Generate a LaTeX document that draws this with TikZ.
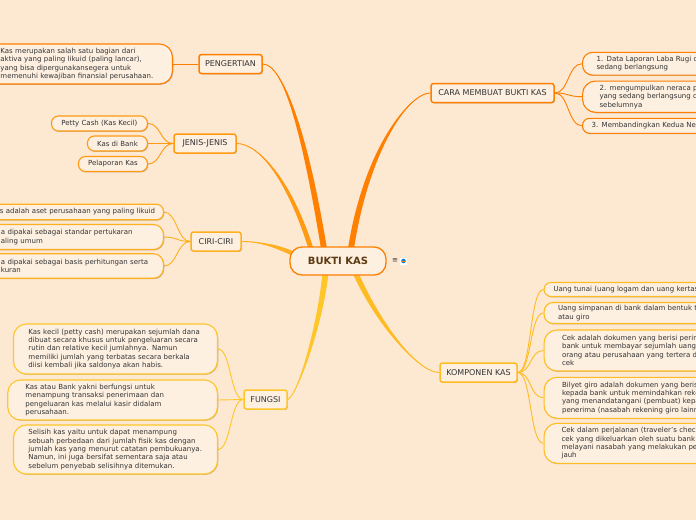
\documentclass[tikz,border=0pt]{standalone}
\usepackage{fontspec}
\setmainfont{DejaVu Sans}
\usetikzlibrary{calc,shadows}
\definecolor{bgc}{HTML}{FDE8D1}
\definecolor{cA}{HTML}{FF7F00}
\definecolor{cB}{HTML}{FF9A12}
\definecolor{cC}{HTML}{FFB020}
\definecolor{cD}{HTML}{FFBC22}
\definecolor{cE}{HTML}{FFC62A}
\definecolor{boxfill}{HTML}{FEF0E1}
\definecolor{txt}{HTML}{333333}
\definecolor{ctr}{HTML}{5C3A12}
\pgfdeclarelayer{bglayer}
\pgfdeclarelayer{connlayer}
\pgfsetlayers{bglayer,connlayer,main}
\newcommand\mmbranch[6]{%
  \fill[#1] (#2) .. controls ($(#2)+(#3)$) and ($(#5)+(#4)-(#6)$) .. ($(#5)-(#6)$)
     -- ($(#5)+(#6)$) .. controls ($(#5)+(#4)+(#6)$) and ($(#2)+(#3)$) .. (#2) -- cycle;
  \draw[#1, line width=0.9pt] (#2) .. controls ($(#2)+(#3)$) and ($(#5)+(#4)$) .. (#5);}
\tikzset{
  shad/.style={drop shadow={shadow xshift=0.8pt, shadow yshift=-0.9pt, opacity=0.22, fill=black}},
  head/.style={draw, fill=boxfill, rounded corners=2.5pt, line width=1.5pt, inner sep=0pt,
    minimum height=19pt, font=\fontsize{8}{9.5}\selectfont, text=txt, shad},
  leaf/.style={draw, fill=boxfill, line width=1.1pt, inner xsep=6pt, inner ysep=1pt,
    font=\fontsize{7}{8.4}\selectfont, text=txt, align=left, shad},
  sleaf/.style={leaf, rounded corners=7pt, align=center, inner sep=0pt, minimum height=15pt},
  mleaf/.style={leaf, rounded corners=13pt},
  fan/.style={line width=0.9pt},
}
\begin{document}
\begin{tikzpicture}[x=1pt,y=-1pt]
\begin{pgfonlayer}{bglayer}
\fill[bgc] (0,0) rectangle (696,520);
\end{pgfonlayer}
\useasboundingbox (0,0) rectangle (696,520);
\clip (0,0) rectangle (696,520);

% centre
\node[draw=cA, fill=boxfill, line width=1.3pt, rounded corners=12pt, minimum width=96pt,
  minimum height=28pt, font=\bfseries\fontsize{10}{12}\selectfont, text=ctr] (bk) at (338,261) {BUKTI KAS};
\node[font=\fontsize{7}{8}\selectfont, text=txt, inner sep=0pt] (ico1) at (395,261) {≡};
\node[fill=white, minimum size=7pt, inner sep=0pt] (ico2) at (403.5,261) {};
\fill[cyan!60!blue] (ico2.center) circle (2.3);
\fill[orange] ($(ico2.center)+(-2,0)$) rectangle ($(ico2.center)+(1,1)$);

% main branches
\node[head, draw=cA, minimum width=63pt] (pen) at (230.5,64) {PENGERTIAN};
\node[head, draw=cB, minimum width=62pt] (jn) at (205,143.5) {JENIS-JENIS};
\node[head, draw=cC, minimum width=50pt] (ci) at (216,241.5) {CIRI-CIRI};
\node[head, draw=cE, minimum width=43pt] (fu) at (265.5,399.5) {FUNGSI};
\node[head, draw=cA, minimum width=123pt] (cara) at (492.5,93) {CARA MEMBUAT BUKTI KAS};
\node[head, draw=cD, minimum width=77pt] (ko) at (478.5,372.5) {KOMPONEN KAS};

% leaves: pengertian
\node[mleaf, draw=cA, anchor=east, text width=186pt, minimum height=40pt] (pl) at (173,64)
 {\leftskip=20pt Kas merupakan salah satu bagian dari\\aktiva yang paling likuid (paling lancar),\\yang bisa dipergunakansegera untuk\\memenuhi kewajiban finansial perusahaan.\par};

% leaves: jenis
\node[sleaf, draw=cB, anchor=east, minimum width=96pt] (j1) at (148,123.5) {Petty Cash (Kas Kecil)};
\node[sleaf, draw=cB, anchor=east, minimum width=60pt] (j2) at (148,143.5) {Kas di Bank};
\node[sleaf, draw=cB, anchor=east, minimum width=69pt] (j3) at (148,164) {Pelaporan Kas};

% leaves: ciri
\node[leaf, rounded corners=7pt, draw=cC, anchor=east, text width=177.5pt, minimum height=15.5pt] (c1) at (164,212)
 {\leftskip=20pt s adalah aset perusahaan yang paling likuid\par};
\node[leaf, rounded corners=10pt, draw=cC, anchor=east, text width=177.5pt, minimum height=25pt] (c2) at (164,237)
 {\leftskip=21pt a dipakai sebagai standar pertukaran\\aling umum\par};
\node[leaf, rounded corners=10pt, draw=cC, anchor=east, text width=177.5pt, minimum height=24.5pt] (c3) at (164,266)
 {\leftskip=21pt a dipakai sebagai basis perhitungan serta\\kuran\par};

% leaves: fungsi
\node[mleaf, draw=cE, anchor=east, text width=192pt, minimum height=50pt] (f1) at (218,349)
 {\leftskip=9pt Kas kecil (petty cash) merupakan sejumlah dana\\dibuat secara khusus untuk pengeluaran secara\\rutin dan relative kecil jumlahnya. Namun\\memiliki jumlah yang terbatas secara berkala\\diisi kembali jika saldonya akan habis.\par};
\node[mleaf, draw=cE, anchor=east, text width=197.7pt, minimum height=40pt] (f2) at (218,400)
 {\leftskip=11.7pt Kas atau Bank yakni berfungsi untuk\\menampung transaksi penerimaan dan\\pengeluaran kas melalui kasir didalam\\perusahaan.\par};
\node[mleaf, draw=cE, anchor=east, text width=192pt, minimum height=49pt] (f3) at (218,449.5)
 {\leftskip=9pt Selisih kas yaitu untuk dapat menampung\\sebuah perbedaan dari jumlah fisik kas dengan\\jumlah kas yang menurut catatan pembukuanya.\\Namun, ini juga bersifat sementara saja atau\\sebelum penyebab selisihnya ditemukan.\par};

% leaves: cara
\node[leaf, rounded corners=10pt, draw=cA, anchor=west, text width=150pt, minimum height=22.7pt] (r1) at (582,63.7)
 {\leftskip=8pt 1. Data Laporan Laba Rugi d\\sedang berlangsung\par};
\node[mleaf, draw=cA, anchor=west, text width=150pt, minimum height=31.3pt] (r2) at (582,96.7)
 {\leftskip=11pt 2. mengumpulkan neraca p\\yang sedang berlangsung d\\sebelumnya\par};
\node[leaf, rounded corners=7pt, draw=cA, anchor=west, text width=150pt, minimum height=15pt] (r3) at (582,125.8)
 {\leftskip=3pt 3. Membandingkan Kedua Ner\par};

% leaves: komponen
\node[leaf, rounded corners=7pt, draw=cD, anchor=west, text width=160pt, minimum height=14pt] (k1) at (543.5,289.5)
 {\leftskip=3.5pt Uang tunai (uang logam dan uang kertas\par};
\node[leaf, rounded corners=9pt, draw=cD, anchor=west, text width=160pt, minimum height=21pt] (k2) at (543.5,313)
 {\leftskip=8pt Uang simpanan di bank dalam bentuk t\\atau giro\par};
\node[mleaf, draw=cD, anchor=west, text width=160pt, minimum height=41pt] (k3) at (543.5,350.5)
 {\leftskip=12pt Cek adalah dokumen yang berisi perin\\bank untuk membayar sejumlah uang\\orang atau perusahaan yang tertera d\\cek\par};
\node[mleaf, draw=cD, anchor=west, text width=160pt, minimum height=41pt] (k4) at (543.5,397.8)
 {\leftskip=12pt Bilyet giro adalah dokumen yang beris\\kepada bank untuk memindahkan reke\\yang menandatangani (pembuat) kepa\\penerima (nasabah rekening giro lainn\par};
\node[mleaf, draw=cD, anchor=west, text width=160pt, minimum height=40pt] (k5) at (543.5,443.3)
 {\leftskip=11.5pt Cek dalam perjalanan (traveler's check\\cek yang dikeluarkan oleh suatu bank\\melayani nasabah yang melakukan pe\\jauh\par};

% connector end points inside the centre node
\coordinate (ePen) at ($(bk.center)+(-13,-6)$);
\coordinate (eJn) at ($(bk.center)+(-26,-9)$);
\coordinate (eCi) at ($(bk.center)+(-40,-5)$);
\coordinate (eCa) at ($(bk.center)+(12,-6)$);
\coordinate (eFu) at ($(bk.center)+(-12,6)$);
\coordinate (eKo) at ($(bk.center)+(15,6)$);

\begin{pgfonlayer}{connlayer}
\mmbranch{cA}{pen.east}{20,0}{-20,-125}{ePen}{3,0}
\mmbranch{cB}{jn.east}{22,0}{-22,-72}{eJn}{2.5,0}
\mmbranch{cC}{ci.east}{19,0}{-18,-9}{eCi}{0,2.5}
\mmbranch{cA}{cara.west}{-21,0}{15,-105}{eCa}{3,0}
\mmbranch{cE}{fu.east}{10,-4}{-4,53}{eFu}{3,0}
\mmbranch{cD}{ko.west}{-22,0}{22,53}{eKo}{3,0}

\draw[fan, cA] (pen.west) -- (pl.east);
\foreach \n in {j1,j2,j3} \draw[fan, cB] (jn.west) .. controls +(-13,0) and +(13,0) .. (\n.east);
\foreach \n in {c1,c2,c3} \draw[fan, cC] (ci.west) .. controls +(-13,0) and +(13,0) .. (\n.east);
\foreach \n in {f1,f2,f3} \draw[fan, cE] (fu.west) .. controls +(-13,0) and +(13,0) .. (\n.east);
\foreach \n in {r1,r2,r3} \draw[fan, cA] (cara.east) .. controls +(14,0) and +(-14,0) .. (\n.west);
\foreach \n in {k1,k2,k3,k4,k5} \draw[fan, cD] (ko.east) .. controls +(14,0) and +(-14,0) .. (\n.west);
\end{pgfonlayer}
\end{tikzpicture}
\end{document}
